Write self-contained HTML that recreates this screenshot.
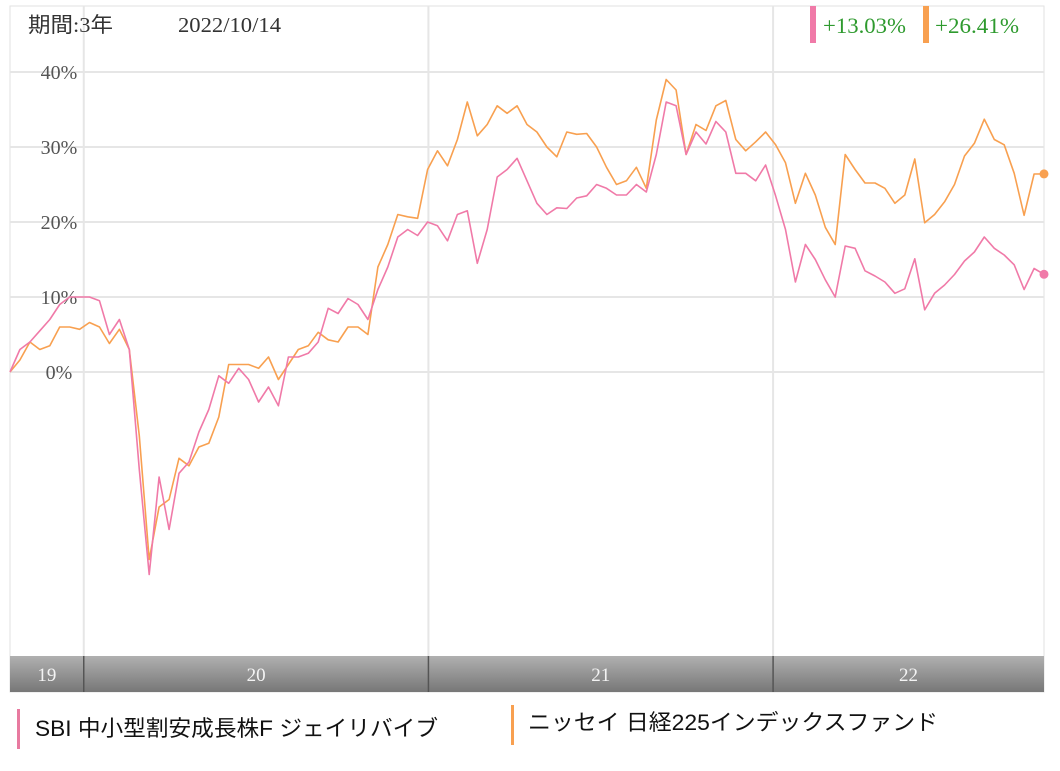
<!DOCTYPE html>
<html><head><meta charset="utf-8"><style>
body{margin:0;background:#fff;width:1060px;height:766px;overflow:hidden;font-family:"Liberation Serif","Noto Serif CJK SC",serif}
</style></head><body>
<svg width="1060" height="766" id="chart">
<rect x="10" y="6" width="1034" height="686" fill="#fff" stroke="#e2e2e2"/>
<g id="grid"></g>
<defs><linearGradient id="band" x1="0" y1="0" x2="0" y2="1"><stop offset="0" stop-color="#b0b0b0"/><stop offset="1" stop-color="#777"/></linearGradient></defs>
<rect x="10" y="656" width="1034" height="36" fill="url(#band)"/>
<g id="xaxis"></g>
<g id="series"></g>
<text x="28" y="32" font-size="21" fill="#333" font-family="Liberation Serif,Noto Sans CJK JP,serif" textLength="85" lengthAdjust="spacingAndGlyphs">期間:3年</text>
<text x="178" y="32" font-size="21" fill="#333" textLength="103" lengthAdjust="spacingAndGlyphs">2022/10/14</text>
<rect x="810" y="6" width="6" height="37" fill="#f07aa8"/>
<text x="823" y="33" font-size="22" fill="#2e9a2e" textLength="83" lengthAdjust="spacingAndGlyphs">+13.03%</text>
<rect x="923" y="6" width="6" height="37" fill="#f8a050"/>
<text x="935" y="33" font-size="22" fill="#2e9a2e" textLength="84" lengthAdjust="spacingAndGlyphs">+26.41%</text>
<rect x="17" y="709" width="3" height="40" fill="#e87aa0"/>
<text x="35" y="736" font-size="22" fill="#111" font-family="Liberation Sans,Noto Sans CJK JP,sans-serif" textLength="403" lengthAdjust="spacingAndGlyphs">SBI 中小型割安成長株F ジェイリバイブ</text>
<rect x="511" y="705" width="3" height="40" fill="#f8a050"/>
<text x="528" y="730" font-size="22" fill="#111" font-family="Liberation Sans,Noto Sans CJK JP,sans-serif" textLength="410" lengthAdjust="spacingAndGlyphs">ニッセイ 日経225インデックスファンド</text>
</svg>
<script>
const yTicks=[0,10,20,30,40];
const yTickLabels=["0%","10%","20%","30%","40%"];
const yearLabels=["19","20","21","22"];
const yearStarts=[2019.786,2020,2021,2022];
const startYear=2019.786, endYear=2022.786;
const sbi=[0,3,4,5.5,7,9,10,10,10,9.5,5,7,3,-13,-27,-14,-21,-13.5,-12,-8,-5,-0.5,-1.5,0.5,-1,-4,-2,-4.5,2,2,2.5,4,8.5,7.8,9.8,9,7,11,14,18,19,18.2,20,19.5,17.5,21,21.5,14.5,19,26,27,28.5,25.5,22.5,21,21.9,21.8,23.2,23.5,25,24.5,23.6,23.6,25,24,29,36,35.5,29,32,30.4,33.4,32,26.5,26.5,25.5,27.6,23.5,19,12,17,15,12.3,10,16.8,16.5,13.5,12.8,12,10.5,11.1,15.1,8.3,10.5,11.6,13,14.8,16,18,16.5,15.6,14.3,11,13.8,13.03];
const nissay=[0,1.6,4,3,3.5,6,6,5.7,6.6,6,3.8,5.7,3,-8.5,-25,-18,-17,-11.5,-12.5,-10,-9.5,-6,1,1,1,0.5,2,-1,1,3,3.5,5.3,4.3,4,6,6,5,14,17,21,20.7,20.5,27,29.5,27.5,31,36,31.5,33,35.5,34.5,35.5,33,32,30,28.7,32,31.7,31.8,30,27.3,25,25.5,27.3,24.5,33.6,39,37.6,29,33,32.2,35.5,36.2,31,29.5,30.7,32,30.3,27.9,22.5,26.5,23.6,19.3,17,29,27,25.2,25.2,24.5,22.5,23.6,28.4,19.9,21,22.7,25,28.8,30.5,33.7,31,30.3,26.5,20.9,26.4,26.41];
const X0=10,X1=1044;
const yS=v=>372-v*7.5;
const xT=t=>X0+(t-startYear)/(endYear-startYear)*(X1-X0);
const xI=(i,n)=>X0+i*(X1-X0)/(n-1);
const NS="http://www.w3.org/2000/svg";
const mk=(tag,at,par)=>{const e=document.createElementNS(NS,tag);for(const k in at)e.setAttribute(k,at[k]);document.getElementById(par).appendChild(e);return e;};
yTicks.forEach((v,i)=>{
 const l=mk('line',{x1:X0,x2:X1,y1:yS(v),y2:yS(v),stroke:'#e6e6e6','stroke-width':2},'grid');
 
 
 const t=mk('text',{x:59,y:yS(v)+7,'font-size':20,fill:'#555','text-anchor':'middle'},'grid');
 t.textContent=yTickLabels[i];
 
 
});
yearStarts.forEach((t,i)=>{
 const x=xT(t);
 if(i>0){
  const l=mk('line',{x1:x,x2:x,y1:6,y2:656,stroke:'#e6e6e6','stroke-width':2},'grid');
  
  
  const s=mk('line',{x1:x,x2:x,y1:656,y2:692,stroke:'#555','stroke-width':1.5},'xaxis');
  
  
 }
 const nx=i+1<yearStarts.length?xT(yearStarts[i+1]):X1;
 const tx=mk('text',{x:(x+nx)/2,y:681,'font-size':19,fill:'#f4f4f4','text-anchor':'middle'},'xaxis');
 tx.textContent=yearLabels[i];
 
 
});
[[nissay,'#f8a050','line-nissay'],[sbi,'#f07aa8','line-sbi']].forEach(([d,c,n])=>{
 const pts=d.map((v,i)=>xI(i,d.length).toFixed(1)+','+yS(v).toFixed(1)).join(' ');
 const p=mk('polyline',{points:pts,fill:'none',stroke:c,'stroke-width':1.6,'stroke-linejoin':'round'},'series');
 
 
 const dot=mk('circle',{cx:X1,cy:yS(d[d.length-1]),r:4.5,fill:c},'series');
 
 
});
</script>
</body></html>
